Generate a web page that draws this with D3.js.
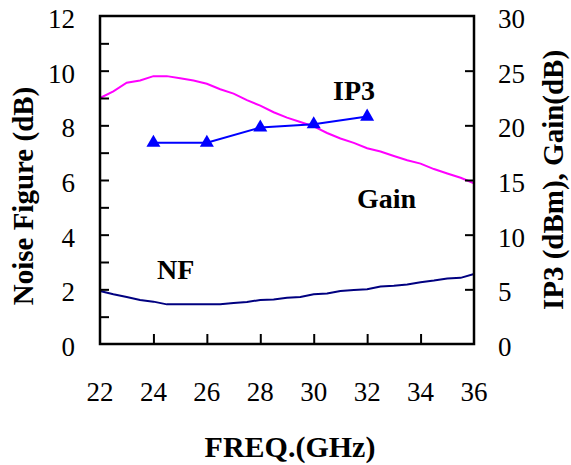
<!DOCTYPE html>
<html>
<head>
<meta charset="utf-8">
<script src="https://cdn.jsdelivr.net/npm/d3@7"></script>
<style>
  html, body { margin: 0; padding: 0; background: #fff; }
  svg { display: block; }
</style>
</head>
<body>
<div id="chart"></div>
<script>
// ---- data ----
const freq = [22, 22.5, 23, 23.5, 24, 24.5, 25, 25.5, 26, 26.5, 27, 27.5, 28, 28.5, 29, 29.5,
              30, 30.5, 31, 31.5, 32, 32.5, 33, 33.5, 34, 34.5, 35, 35.5, 36];
const gain = [22.5, 23.1, 23.9, 24.1, 24.5, 24.5, 24.3, 24.1, 23.8, 23.3, 22.9, 22.3, 21.8, 21.2, 20.7, 20.3,
              19.9, 19.3, 18.8, 18.4, 17.9, 17.6, 17.2, 16.8, 16.5, 16.0, 15.6, 15.2, 14.7];
const nf = [1.94, 1.82, 1.72, 1.61, 1.55, 1.45, 1.45, 1.45, 1.45, 1.45, 1.50, 1.54, 1.61, 1.63, 1.69, 1.72,
            1.82, 1.85, 1.94, 1.98, 2.00, 2.10, 2.13, 2.18, 2.26, 2.32, 2.40, 2.42, 2.56];
const ip3Freq = [24, 26, 28, 30, 32];
const ip3 = [18.4, 18.4, 19.8, 20.1, 20.8];
const xTickLabels = [22, 24, 26, 28, 30, 32, 34, 36];
const leftTickLabels = [0, 2, 4, 6, 8, 10, 12];
const rightTickLabels = [0, 5, 10, 15, 20, 25, 30];

// ---- layout ----
const W = 571, H = 465;
const L = 100, R = 474, T = 16, B = 344;
const serif = "'Liberation Serif', 'Times New Roman', serif";

const svg = d3.select("#chart").append("svg").attr("width", W).attr("height", H);

const x = d3.scaleLinear().domain([22, 36]).range([L, R]);
const yL = d3.scaleLinear().domain([0, 12]).range([B, T]);
const yR = d3.scaleLinear().domain([0, 30]).range([B, T]);

// ---- series ----
const gainLine = d3.line().x((d, i) => x(freq[i])).y(d => yR(d));
svg.append("path").datum(gain).attr("d", gainLine)
  .attr("fill", "none").attr("stroke", "#ff00ff").attr("stroke-width", 2);

const nfLine = d3.line().x((d, i) => x(freq[i])).y(d => yL(d));
svg.append("path").datum(nf).attr("d", nfLine)
  .attr("fill", "none").attr("stroke", "#000080").attr("stroke-width", 2);

const ipLine = d3.line().x((d, i) => x(ip3Freq[i])).y(d => yR(d));
svg.append("path").datum(ip3).attr("d", ipLine)
  .attr("fill", "none").attr("stroke", "#0000ff").attr("stroke-width", 2);

const tri = d3.symbol().type(d3.symbolTriangle).size(85);
svg.selectAll("path.tri").data(ip3).join("path")
  .attr("class", "tri")
  .attr("d", tri)
  .attr("transform", (d, i) => `translate(${x(ip3Freq[i])},${yR(d)})`)
  .attr("fill", "#0000ff");

// ---- axes ----
const axisG = svg.append("g");
const xAxis = d3.axisTop(x).tickValues(xTickLabels.slice(1, -1)).tickSize(10).tickFormat("");
axisG.append("g").attr("transform", `translate(0,${B})`).call(xAxis);
const lAxis = d3.axisRight(yL).tickValues(d3.range(1, 12)).tickSize(9).tickFormat("");
axisG.append("g").attr("transform", `translate(${L},0)`).call(lAxis);
const rAxis = d3.axisLeft(yR).tickValues(rightTickLabels.slice(1, -1)).tickSize(9).tickFormat("");
axisG.append("g").attr("transform", `translate(${R},0)`).call(rAxis);
axisG.selectAll(".domain").remove();
axisG.selectAll(".tick line").attr("stroke", "#000").attr("stroke-width", 2);

svg.append("rect").attr("x", L).attr("y", T).attr("width", R - L).attr("height", B - T)
  .attr("fill", "none").attr("stroke", "#000").attr("stroke-width", 2.5);

// tick labels
svg.selectAll("text.xl").data(xTickLabels).join("text")
  .attr("x", d => x(d)).attr("y", 401)
  .attr("text-anchor", "middle")
  .attr("font-family", serif).attr("font-size", 27)
  .text(d => d);
svg.selectAll("text.ll").data(leftTickLabels).join("text")
  .attr("x", 75).attr("y", d => yL(d) + 12)
  .attr("text-anchor", "end")
  .attr("font-family", serif).attr("font-size", 27)
  .text(d => d);
svg.selectAll("text.rl").data(rightTickLabels).join("text")
  .attr("x", 498).attr("y", d => yR(d) + 12)
  .attr("text-anchor", "start")
  .attr("font-family", serif).attr("font-size", 27)
  .text(d => d);

// titles
svg.append("text").attr("x", 290).attr("y", 457)
  .attr("text-anchor", "middle").attr("font-family", serif)
  .attr("font-size", 30).attr("font-weight", "bold").text("FREQ.(GHz)");
svg.append("text").attr("transform", "translate(33,196) rotate(-90)")
  .attr("text-anchor", "middle").attr("font-family", serif)
  .attr("font-size", 29).attr("font-weight", "bold").text("Noise Figure (dB)");
svg.append("text").attr("transform", "translate(563,180) rotate(-90)")
  .attr("text-anchor", "middle").attr("font-family", serif)
  .attr("font-size", 29).attr("font-weight", "bold").text("IP3 (dBm), Gain(dB)");

// series labels
const lab = (t, xx, yy) => svg.append("text").attr("x", xx).attr("y", yy)
  .attr("font-family", serif).attr("font-size", 28).attr("font-weight", "bold").text(t);
lab("IP3", 333, 100);
lab("Gain", 357, 208);
lab("NF", 157, 279);
</script>
</body>
</html>
